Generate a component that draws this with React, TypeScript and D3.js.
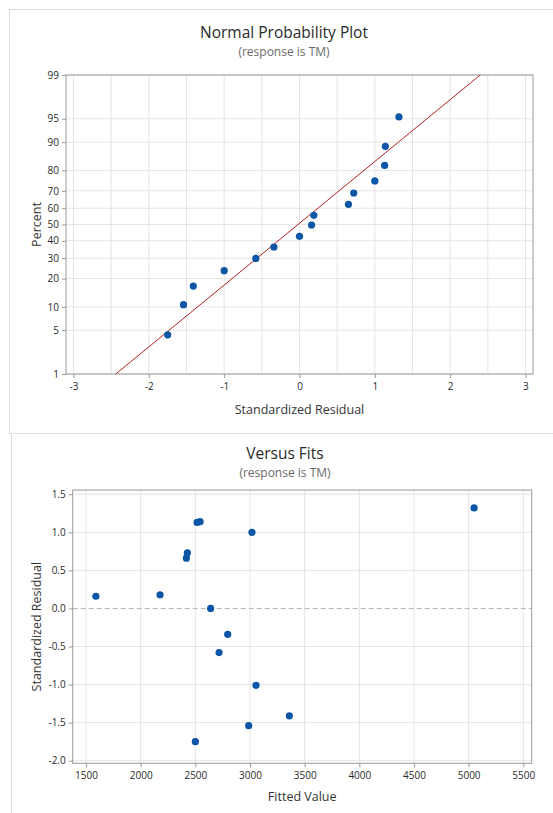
import React, { useEffect, useRef } from 'react';
import * as d3 from 'd3';

// standardized residuals (sorted)
const residuals = [-1.75, -1.54, -1.41, -1.0, -0.58, -0.34, 0.0, 0.16, 0.19, 0.65, 0.72, 1.0, 1.13, 1.14, 1.32];
// plotted percent for each sorted residual
const percents = [4.3, 10.6, 16.9, 23.6, 29.9, 36.3, 42.7, 49.7, 55.7, 62.3, 68.8, 75.1, 82.1, 88.8, 95.3];

// versus fits points
const fitted = [1590, 2177, 2418, 2427, 2516, 2543, 3018, 2640, 2796, 2717, 3055, 2988, 3360, 2500, 5050];
const fitResid = [0.16, 0.18, 0.66, 0.73, 1.13, 1.14, 1.0, 0.0, -0.34, -0.58, -1.01, -1.54, -1.41, -1.75, 1.32];

// reference line of the probability plot
const lineMean = -0.02;
const lineSd = 1.04;

const pctTicks = [1, 5, 10, 20, 30, 40, 50, 60, 70, 80, 90, 95, 99];
const residTicks = [-3, -2, -1, 0, 1, 2, 3];
const fitTicks = [1500, 2000, 2500, 3000, 3500, 4000, 4500, 5000, 5500];
const vfTicks = [1.5, 1.0, 0.5, 0.0, -0.5, -1.0, -1.5, -2.0];

// inverse normal CDF (Acklam)
function qnorm(p: number): number {
  const a = [-39.69683028665376, 220.9460984245205, -275.9285104469687, 138.357751867269, -30.66479806614716, 2.506628277459239];
  const b = [-54.47609879822406, 161.5858368580409, -155.6989798598866, 66.80131188771972, -13.28068155288572];
  const c = [-0.007784894002430293, -0.3223964580411365, -2.400758277161838, -2.549732539343734, 4.374664141464968, 2.938163982698783];
  const dd = [0.007784695709041462, 0.3224671290700398, 2.445134137142996, 3.754408661907416];
  const pl = 0.02425;
  let q: number, r: number;
  if (p < pl) {
    q = Math.sqrt(-2 * Math.log(p));
    return (((((c[0] * q + c[1]) * q + c[2]) * q + c[3]) * q + c[4]) * q + c[5]) / ((((dd[0] * q + dd[1]) * q + dd[2]) * q + dd[3]) * q + 1);
  }
  if (p > 1 - pl) {
    q = Math.sqrt(-2 * Math.log(1 - p));
    return -(((((c[0] * q + c[1]) * q + c[2]) * q + c[3]) * q + c[4]) * q + c[5]) / ((((dd[0] * q + dd[1]) * q + dd[2]) * q + dd[3]) * q + 1);
  }
  q = p - 0.5;
  r = q * q;
  return (((((a[0] * r + a[1]) * r + a[2]) * r + a[3]) * r + a[4]) * r + a[5]) * q / (((((b[0] * r + b[1]) * r + b[2]) * r + b[3]) * r + b[4]) * r + 1);
}

const FONT = "'Open Sans', 'Noto Sans', sans-serif";
const dotColor = "#0a55a5";
const gridColor = "#e4e4e4";
const frameColor = "#9a9a9a";
const hyphen = (s: string) => s.replace("\u2212", "-");

const App = () => {
  const svgRef = useRef<SVGSVGElement>(null);

  useEffect(() => {
    const svg = d3.select(svgRef.current);
    svg.selectAll("*").remove();

    const width = 553;
    const height = 813;
    svg.attr("width", width).attr("height", height).attr("viewBox", [0, 0, width, height]);

    // panel frames
    svg.append("rect").attr("x", 9.5).attr("y", 9.5).attr("width", 560).attr("height", 424)
      .attr("fill", "none").attr("stroke", "#dcdcdc");
    svg.append("line").attr("x1", 11.5).attr("x2", 11.5).attr("y1", 434).attr("y2", height)
      .attr("stroke", "#dcdcdc");

    const title = (x: number, y: number, main: string, sub: string) => {
      svg.append("text").attr("x", x).attr("y", y).attr("text-anchor", "middle")
        .attr("font-family", FONT).attr("font-size", 15.5).attr("fill", "#2a2a2a").text(main);
      svg.append("text").attr("x", x).attr("y", y + 18).attr("text-anchor", "middle")
        .attr("font-family", FONT).attr("font-size", 12).attr("fill", "#6a6a6a").text(sub);
    };

    const axisTitle = (x: number, y: number, rotate: boolean, label: string) => {
      svg.append("text")
        .attr("transform", rotate ? `translate(${x},${y}) rotate(-90)` : `translate(${x},${y})`)
        .attr("text-anchor", "middle")
        .attr("font-family", FONT).attr("font-size", 12.5).attr("fill", "#333").text(label);
    };

    const styleAxis = (a: any) => {
      a.select(".domain").remove();
      a.selectAll(".tick line").attr("stroke", frameColor);
      a.selectAll("text").attr("font-family", FONT).attr("font-size", 10).attr("fill", "#2a2a2a");
    };

    // ---------- Normal probability plot ----------
    {
      const L = 66, R = 533, T = 75, B = 374;
      const x = d3.scaleLinear([-3.1, 3.1], [L, R]);
      const zMin = qnorm(0.01), zMax = qnorm(0.99);
      const y = d3.scaleLinear([zMin, zMax], [B, T]);
      const yp = (p: number) => y(qnorm(p / 100));

      title(284, 38, "Normal Probability Plot", "(response is TM)");

      const g = svg.append("g");
      // vertical grid every 0.5
      g.selectAll(".vg").data(d3.range(-3, 3.01, 0.5)).join("line")
        .attr("x1", d => x(d)).attr("x2", d => x(d)).attr("y1", T).attr("y2", B)
        .attr("stroke", gridColor);
      g.selectAll(".hg").data(pctTicks).join("line")
        .attr("x1", L).attr("x2", R).attr("y1", d => yp(d)).attr("y2", d => yp(d))
        .attr("stroke", gridColor);

      g.append("rect").attr("x", L).attr("y", T).attr("width", R - L).attr("height", B - T)
        .attr("fill", "none").attr("stroke", frameColor);

      svg.append("g").attr("transform", `translate(0,${B})`)
        .call(d3.axisBottom(x).tickValues(residTicks).tickSize(4).tickSizeOuter(0)
          .tickFormat(d => hyphen(d3.format("d")(d as number))))
        .call(styleAxis)
        .call(a => a.selectAll("text").attr("dy", "0.9em"));

      const yAxis = d3.axisLeft(y).tickValues(pctTicks.map(p => qnorm(p / 100)))
        .tickSize(4).tickSizeOuter(0).tickFormat((_, i) => String(pctTicks[i]));
      svg.append("g").attr("transform", `translate(${L},0)`)
        .call(yAxis)
        .call(styleAxis);

      // fitted line
      const line = d3.line<number>().x(z => x(lineMean + lineSd * z)).y(z => y(z));
      svg.append("path").attr("d", line([zMin, zMax]))
        .attr("fill", "none").attr("stroke", "#b22222").attr("stroke-width", 1);

      svg.append("g").selectAll("circle").data(residuals).join("circle")
        .attr("cx", d => x(d)).attr("cy", (_, i) => yp(percents[i]))
        .attr("r", 3.6).attr("fill", dotColor);

      axisTitle((L + R) / 2, 414, false, "Standardized Residual");
      axisTitle(41, (T + B) / 2, true, "Percent");
    }

    // ---------- Versus fits ----------
    {
      const L = 72.7, R = 531.7, T = 490, B = 763.3;
      const x = d3.scaleLinear([1378, 5577], [L, R]);
      const y = d3.scaleLinear([-2.034, 1.556], [B, T]);

      title(285, 459, "Versus Fits", "(response is TM)");

      const g = svg.append("g");
      g.selectAll(".vg").data(fitTicks).join("line")
        .attr("x1", d => x(d)).attr("x2", d => x(d)).attr("y1", T).attr("y2", B)
        .attr("stroke", gridColor);
      g.selectAll(".hg").data(vfTicks.filter(v => v !== 0)).join("line")
        .attr("x1", L).attr("x2", R).attr("y1", d => y(d)).attr("y2", d => y(d))
        .attr("stroke", gridColor);
      g.append("line").attr("x1", L).attr("x2", R).attr("y1", y(0)).attr("y2", y(0))
        .attr("stroke", "#b4b4b4").attr("stroke-dasharray", "5,3");

      g.append("rect").attr("x", L).attr("y", T).attr("width", R - L).attr("height", B - T)
        .attr("fill", "none").attr("stroke", frameColor);

      svg.append("g").attr("transform", `translate(0,${B})`)
        .call(d3.axisBottom(x).tickValues(fitTicks).tickSize(4).tickSizeOuter(0).tickFormat(d3.format("d")))
        .call(styleAxis)
        .call(a => a.selectAll("text").attr("dy", "0.9em"));

      svg.append("g").attr("transform", `translate(${L},0)`)
        .call(d3.axisLeft(y).tickValues(vfTicks).tickSize(4).tickSizeOuter(0)
          .tickFormat(d => hyphen(d3.format(".1f")(d as number))))
        .call(styleAxis);

      svg.append("g").selectAll("circle").data(fitted).join("circle")
        .attr("cx", d => x(d)).attr("cy", (_, i) => y(fitResid[i]))
        .attr("r", 3.6).attr("fill", dotColor);

      axisTitle((L + R) / 2, 801, false, "Fitted Value");
      axisTitle(41, (T + B) / 2, true, "Standardized Residual");
    }
  }, []);

  return (
    <svg ref={svgRef} style={{ position: "absolute", left: 0, top: 0, background: "#fff" }} />
  );
};

export default App;
